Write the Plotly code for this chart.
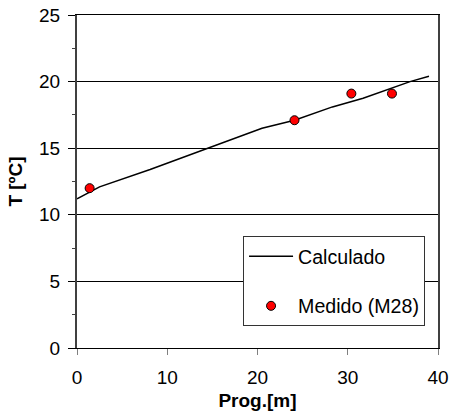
import plotly.graph_objects as go

# Calculated curve (Calculado)
calc_x = [0, 2.5, 8.1, 14.5, 20.5, 24.1, 28.3, 31.7, 36.9, 39.0]
calc_y = [11.2, 12.1, 13.4, 15.0, 16.5, 17.1, 18.1, 18.75, 20.0, 20.4]

# Measured points (Medido (M28))
med_x = [1.4, 24.1, 30.4, 34.9]
med_y = [12.0, 17.1, 19.1, 19.1]

x_ticks = [0, 10, 20, 30, 40]
y_ticks = [0, 5, 10, 15, 20, 25]

FONT = "Liberation Sans, Arial, sans-serif"

fig = go.Figure()
fig.add_trace(go.Scatter(
    x=calc_x, y=calc_y, mode="lines", name="Calculado",
    line=dict(color="black", width=1.5), legendgroup="a",
))
fig.add_trace(go.Scatter(
    x=med_x, y=med_y, mode="markers", name="Medido (M28)",
    marker=dict(color="red", size=9, line=dict(color="black", width=1)),
    legendgroup="b",
))

fig.update_layout(
    width=449, height=416,
    margin=dict(l=77, r=11, t=15, b=68),
    paper_bgcolor="white", plot_bgcolor="white",
    font=dict(family=FONT, size=19, color="black"),
    showlegend=True,
    legend=dict(
        x=0.46, y=0.336, xanchor="left", yanchor="top",
        bgcolor="white", bordercolor="#333333", borderwidth=1,
        font=dict(family=FONT, size=19.6, color="black"),
        tracegroupgap=21, itemwidth=44,
    ),
    xaxis=dict(
        range=[0, 40], tickvals=x_ticks, ticktext=[str(v) for v in x_ticks],
        showgrid=False, zeroline=False, automargin=False,
        showline=True, linecolor="black", linewidth=1, mirror=True,
        ticks="outside", ticklen=6, tickcolor="#808080", tickwidth=1,
        ticklabelstandoff=6,
        title=dict(text="<b>Prog.[m]</b>", font=dict(size=19), standoff=6),
    ),
    yaxis=dict(
        range=[0, 25], tickvals=y_ticks, ticktext=[str(v) for v in y_ticks],
        showgrid=True, gridcolor="black", gridwidth=1, zeroline=False, automargin=False,
        showline=True, linecolor="#404040", linewidth=2, mirror=True,
        ticks="outside", ticklen=7, tickcolor="black", tickwidth=1,
        ticklabelstandoff=4,
        minor=dict(dtick=2.5, ticks="outside", ticklen=3, tickcolor="#404040", showgrid=False),
        title=dict(text="<b>T [ºC]</b>", font=dict(size=19), standoff=11),
    ),
)

fig.write_html(
    "out.html",
    config={"displayModeBar": False},
    post_script="document.body.style.margin='0';",
)
